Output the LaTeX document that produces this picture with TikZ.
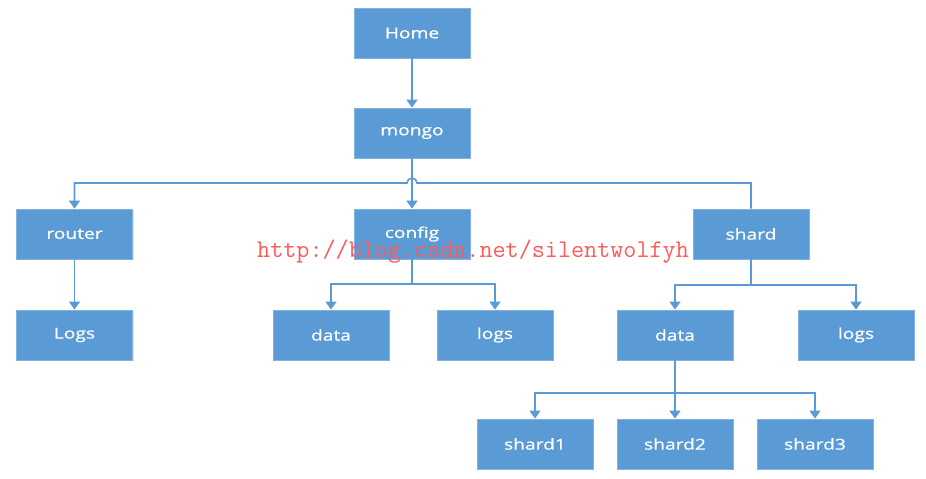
\documentclass[tikz,border=0pt]{standalone}
\usepackage{fontspec}
\newfontfamily\boxfont{Open Sans}[FakeStretch=1.28,FakeBold=0.6]
\usetikzlibrary{arrows.meta,shadows}
\definecolor{boxblue}{HTML}{5B9BD5}
\definecolor{boxedge}{HTML}{82B2E0}
\definecolor{wmred}{HTML}{FF5A5A}
\tikzset{
  box/.style={rectangle, fill=boxblue, draw=boxedge, line width=0.8pt,
    minimum width=116pt, minimum height=50pt, inner sep=0pt,
    text=white, font=\boxfont\fontsize{15}{17}\selectfont,
    drop shadow={opacity=0.18, shadow xshift=1.2pt, shadow yshift=-1.2pt}},
  conn/.style={draw=boxblue, line width=1.6pt},
  arr/.style={conn, -{Triangle[width=11pt,length=8pt]}}
}
\begin{document}
\begin{tikzpicture}[x=1pt,y=-1pt]
\useasboundingbox (0,0) rectangle (926,479);
\fill[white] (0,0) rectangle (926,479);
% nodes
\node[box] (home)   at (412,33)  {Home};
\node[box] (mongo)  at (412,133) {mongo};
\node[box] (router) at (74.5,234)  {router};
\node[box] (config) at (412,234) {config};
\node[box] (shard)  at (751,234) {shard};
\node[box] (logs)   at (74.5,335)  {Logs};
\node[box] (cdata)  at (331,335) {data};
\node[box] (clogs)  at (495,335) {logs};
\node[box] (sdata)  at (675,335) {data};
\node[box] (slogs)  at (856,335) {logs};
\node[box] (sh1)    at (535,444) {shard1};
\node[box] (sh2)    at (675,444) {shard2};
\node[box] (sh3)    at (815,444) {shard3};
% bus coordinates
\coordinate (bus)  at (412,183);
\coordinate (cbus) at (0,284);
\coordinate (sbus) at (0,285);
\coordinate (dbus) at (0,393);
% connectors
\draw[arr] (home) -- (mongo);
\draw[arr] (mongo) -- (config);
\draw[arr] (shard.north) -- (shard.north |- bus) -- ([xshift=5pt]bus)
   arc[start angle=0, end angle=180, radius=5pt]
   -- (router.north |- bus) -- (router.north);
\draw[arr] (router) -- (logs);
\draw[arr] (config.south) -- (config.south |- cbus) -| (cdata.north);
\draw[arr] (config.south |- cbus) -| (clogs.north);
\draw[arr] (shard.south) -- (shard.south |- sbus) -| (sdata.north);
\draw[arr] (shard.south |- sbus) -| (slogs.north);
\draw[arr] (sdata.south) -- (sh2.north);
\draw[arr] (sdata.south |- dbus) -| (sh1.north);
\draw[arr] (sdata.south |- dbus) -| (sh3.north);
% watermark
\node[text=wmred, font=\ttfamily\fontsize{25.4}{27}\selectfont, inner sep=0pt, anchor=base west] (wm) at (257,257) {http://blog.csdn.net/silentwolfyh};
\end{tikzpicture}
\end{document}
